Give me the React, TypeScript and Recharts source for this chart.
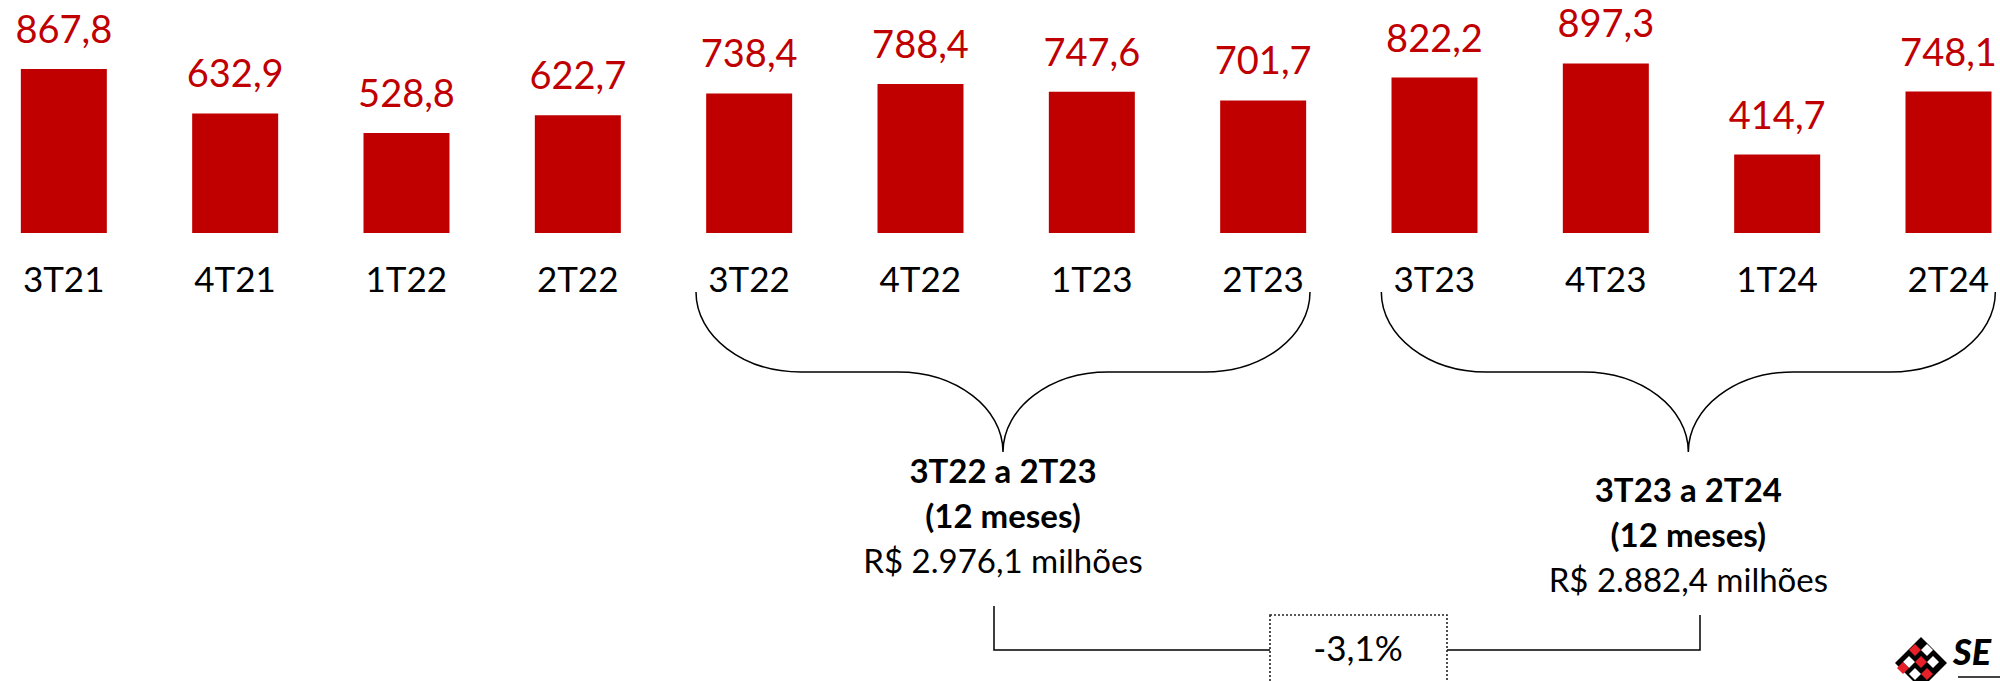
import React from 'react';
import { BarChart, Bar, XAxis, YAxis, LabelList } from 'recharts';

const categories = ['3T21', '4T21', '1T22', '2T22', '3T22', '4T22', '1T23', '2T23', '3T23', '4T23', '1T24', '2T24'];
const values = [867.8, 632.9, 528.8, 622.7, 738.4, 788.4, 747.6, 701.7, 822.2, 897.3, 414.7, 748.1];

// 12-month windows marked with braces under the axis
const periodStart = [4, 8];
const periodEnd = [7, 11];
const periodTitles = ['3T22 a 2T23', '3T23 a 2T24'];
const periodTotals = ['R$ 2.976,1 milhões', 'R$ 2.882,4 milhões'];
const changeLabel = '-3,1%';

const RED = '#C00000';
const FONT = 'Lato, "Open Sans", sans-serif';

const CHART_W = 2056;
const CHART_LEFT = -22;
const BAND = CHART_W / categories.length;
const center = (i: number) => CHART_LEFT + BAND * (i + 0.5);

const data = categories.map((c, i) => ({ quarter: c, value: values[i] }));

const fmt = (v: number) => v.toFixed(1).replace('.', ',');

const bracePath = (x0: number, x1: number, yTop: number, yMid: number, yTip: number) => {
  const tip = (x0 + x1) / 2;
  const r = 105;
  const k = 0.552;
  const h1 = yMid - yTop;
  const h2 = yTip - yMid;
  return [
    `M ${x0} ${yTop}`,
    `C ${x0} ${yTop + k * h1} ${x0 + r * (1 - k)} ${yMid} ${x0 + r} ${yMid}`,
    `L ${tip - r} ${yMid}`,
    `C ${tip - r + k * r} ${yMid} ${tip} ${yTip - k * h2} ${tip} ${yTip}`,
    `C ${tip} ${yTip - k * h2} ${tip + r - k * r} ${yMid} ${tip + r} ${yMid}`,
    `L ${x1 - r} ${yMid}`,
    `C ${x1 - r + k * r} ${yMid} ${x1} ${yTop + k * h1} ${x1} ${yTop}`,
  ].join(' ');
};

const QuarterTick = (props: any) => {
  const { x, y, payload } = props;
  return (
    <text x={x} y={y + 59} textAnchor="middle" fill="#000" fontSize={35} fontFamily={FONT}>
      {payload.value}
    </text>
  );
};

const ValueLabel = (props: any) => {
  const { x, y, width, value } = props;
  return (
    <text x={x + width / 2} y={y - 26} textAnchor="middle" fill={RED} fontSize={38} fontFamily={FONT}>
      {fmt(value)}
    </text>
  );
};

const Overlay = () => {
  const textTop = [483, 502];
  return (
    <svg width={2000} height={681} style={{ position: 'absolute', left: 0, top: 0, pointerEvents: 'none' }}>
      {periodStart.map((s, i) => {
        const x0 = center(s) - 53;
        const x1 = center(periodEnd[i]) + 47;
        const mid = (x0 + x1) / 2;
        return (
          <g key={i} fontFamily={FONT} textAnchor="middle" fill="#000">
            <path d={bracePath(x0, x1, 292, 372, 452)} fill="none" stroke="#000" strokeWidth={1.5} />
            <text x={mid} y={textTop[i]} fontSize={33} fontWeight={700}>{periodTitles[i]}</text>
            <text x={mid} y={textTop[i] + 45} fontSize={33} fontWeight={700}>(12 meses)</text>
            <text x={mid} y={textTop[i] + 90} fontSize={33}>{periodTotals[i]}</text>
          </g>
        );
      })}
      {/* comparison connector */}
      <polyline points="994,606 994,650 1270,650" fill="none" stroke="#000" strokeWidth={1.5} />
      <polyline points="1447,650 1700,650 1700,615" fill="none" stroke="#000" strokeWidth={1.5} />
      <rect x={1270} y={615} width={177} height={90} fill="#fff" stroke="#222" strokeWidth={1.6} strokeDasharray="2 2" />
      <text x={1358} y={661} textAnchor="middle" fontSize={35} fontFamily={FONT} fill="#000">{changeLabel}</text>
      {/* logo, cut off by the page edge */}
      <g>
        <polygon points="1921,637 1947,663 1921,689 1895,663" fill="#000" />
        <polygon points="1915,644 1921,650 1915,656 1909,650" fill="#E8202A" />
        <polygon points="1927,644 1933,650 1927,656 1921,650" fill="#fff" />
        <polygon points="1909,656 1915,662 1909,668 1903,662" fill="#fff" />
        <polygon points="1921,656 1927,662 1921,668 1915,662" fill="#E8202A" />
        <polygon points="1933,656 1939,662 1933,668 1927,662" fill="#fff" />
        <polygon points="1903,662 1909,668 1903,674 1897,668" fill="#E8202A" />
        <polygon points="1915,668 1921,674 1915,680 1909,674" fill="#fff" />
        <polygon points="1927,668 1933,674 1927,680 1921,674" fill="#E8202A" />
        <text x={1953} y={665} fontSize={36} fontWeight={900} fontStyle="italic" fontFamily={FONT} fill="#000">SE</text>
        <rect x={1958} y={676} width={42} height={2} fill="#444" />
      </g>
    </svg>
  );
};

export default function App() {
  return (
    <div style={{ position: 'fixed', left: 0, top: 0, width: 2000, height: 681, overflow: 'hidden', background: '#fff' }}>
      <div style={{ position: 'absolute', left: CHART_LEFT, top: 0 }}>
        <BarChart width={CHART_W} height={681} data={data} margin={{ top: 44, right: 0, bottom: 0, left: 0 }} barCategoryGap="25%">
          <XAxis dataKey="quarter" height={448} axisLine={false} tickLine={false} tickSize={0} tickMargin={0} interval={0} tick={<QuarterTick />} />
          <YAxis hide domain={[0, 1000]} />
          <Bar dataKey="value" fill={RED} isAnimationActive={false}>
            <LabelList dataKey="value" content={<ValueLabel />} />
          </Bar>
        </BarChart>
      </div>
      <Overlay />
    </div>
  );
}
